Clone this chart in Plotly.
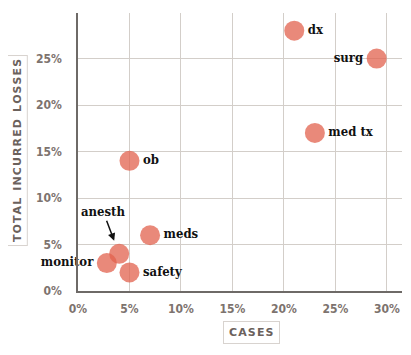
import plotly.graph_objects as go

categories = ["dx", "surg", "med tx", "ob", "meds", "anesth", "monitor", "safety"]
cases = [21, 29, 23, 5, 7, 4, 2.8, 5]
losses = [28, 25, 17, 14, 6, 4, 3, 2]
label_pos = ["middle right", "middle left", "middle right", "middle right",
             "middle right", "top center", "middle left", "middle right"]
x_ticks = [0, 5, 10, 15, 20, 25, 30]
y_ticks = [0, 5, 10, 15, 20, 25]

shown = [c if c != "anesth" else "" for c in categories]

label_font = dict(family="DejaVu Serif Condensed, DejaVu Serif", size=13, color="#111111", weight="bold")
tick_font = dict(family="DejaVu Sans Condensed, DejaVu Sans", size=12, color="#7d736e", weight="bold")

fig = go.Figure()
fig.add_trace(go.Scatter(
    x=cases, y=losses, mode="markers+text",
    text=shown, textposition=label_pos,
    textfont=label_font,
    marker=dict(size=20, color="rgba(226,98,78,0.75)", line=dict(width=0)),
    hoverinfo="skip", cliponaxis=False,
))

ai = categories.index("anesth")
fig.add_annotation(
    x=cases[ai], y=losses[ai], xref="x", yref="y",
    text="anesth", font=label_font,
    showarrow=True, ax=-16, ay=-42, arrowhead=2, arrowsize=1,
    arrowwidth=1.5, arrowcolor="#111111", standoff=14,
)

fig.add_annotation(
    x=0.534, y=-0.19, xref="paper", yref="paper", xanchor="center", yanchor="bottom",
    text="\u200aC\u200aA\u200aS\u200aE\u200aS\u200a", showarrow=False,
    font=dict(family="DejaVu Sans", size=11, color="#6b615c", weight="bold"),
    bordercolor="#d8d3cf", borderwidth=1, borderpad=4, bgcolor="white",
)
fig.add_annotation(
    x=-0.187, y=0.505, xref="paper", yref="paper", xanchor="center", yanchor="middle",
    text="\u200a".join("TOTAL INCURRED LOSSES").replace(" ", " \u200a"), showarrow=False,
    textangle=-90,
    font=dict(family="DejaVu Sans", size=11, color="#6b615c", weight="bold"),
    bordercolor="#d8d3cf", borderwidth=1, borderpad=3, bgcolor="white",
)

# page body has an 8px default margin; compensate so the plot sits where the reference has it
fig.update_layout(
    width=403, height=347,
    margin=dict(l=70, r=9, t=5, b=64),
    plot_bgcolor="white", paper_bgcolor="white",
    showlegend=False,
    xaxis=dict(
        range=[0, 31.46], tickvals=x_ticks, ticktext=[f"{v}%" for v in x_ticks],
        showgrid=True, gridcolor="#d3cec9", gridwidth=1,
        showline=True, linecolor="#6e6a67", linewidth=1.5,
        zeroline=False, tickfont=tick_font, ticks="", ticklabelstandoff=6,
        fixedrange=True, automargin=False,
    ),
    yaxis=dict(
        range=[0, 29.9], tickvals=y_ticks, ticktext=[f"{v}%" for v in y_ticks],
        showgrid=True, gridcolor="#d3cec9", gridwidth=1,
        showline=True, linecolor="#6e6a67", linewidth=1.5,
        zeroline=False, tickfont=tick_font, ticks="", ticklabelstandoff=12,
        fixedrange=True, automargin=False,
    ),
)

fig.write_html("out.html")
